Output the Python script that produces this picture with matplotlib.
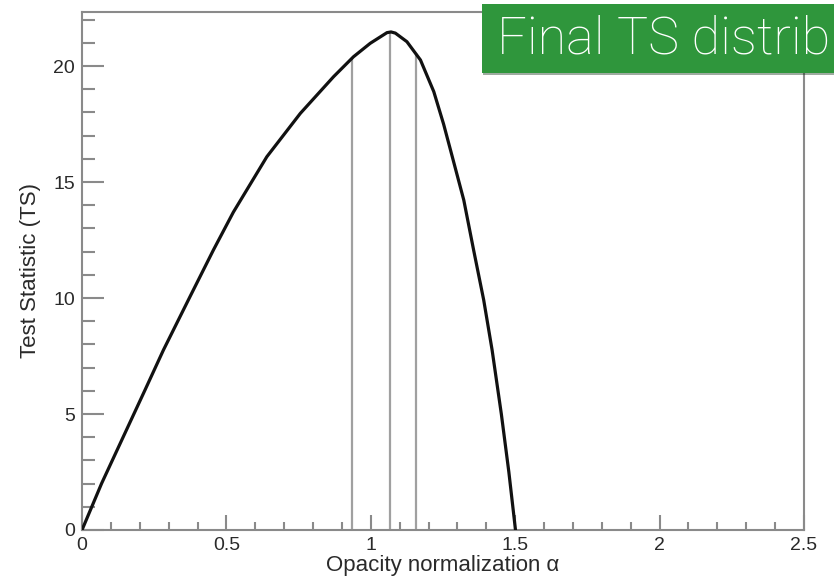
import numpy as np
import matplotlib
matplotlib.use("Agg")
from matplotlib import pyplot as plt
from matplotlib import patches, patheffects
from matplotlib.ticker import MultipleLocator

# TS scan vs opacity normalization
alpha = [0.0, 0.068, 0.143, 0.218, 0.282, 0.374, 0.455, 0.524, 0.640, 0.756,
         0.871, 0.940, 0.998, 1.056, 1.070, 1.085, 1.125, 1.172, 1.218, 1.252,
         1.276, 1.322, 1.356, 1.391, 1.420, 1.452, 1.478, 1.501]
ts = [0.0, 2.01, 4.02, 6.03, 7.76, 10.06, 12.07, 13.7, 16.09, 17.96,
      19.54, 20.40, 20.98, 21.44, 21.47, 21.42, 21.05, 20.26, 18.9, 17.5,
      16.38, 14.22, 12.07, 9.91, 7.76, 5.0, 2.5, 0.0]

# best fit and 1 sigma bounds
markers = [0.935, 1.067, 1.155]

x_label = "Opacity normalization α"
y_label = "Test Statistic (TS)"
banner = "Final TS distrib"

plt.rcParams['font.family'] = ['Liberation Sans', 'DejaVu Sans']

fig = plt.figure(figsize=(8.34, 5.84), dpi=100)
ax = fig.add_axes([82/834, 54/584, 722/834, 518/584])

ax.plot(alpha, ts, color='#111111', lw=2.3, solid_joinstyle='round', zorder=3)
ax.vlines(markers, 0, np.interp(markers, alpha, ts), color='#a0a0a0', lw=1.6, zorder=2)

ax.set_xlim(0, 2.5)
ax.set_ylim(0, 22.33)

frame_col = '#8a8a8a'
for s in ax.spines.values():
    s.set_color(frame_col)
    s.set_linewidth(1.5)

ax.xaxis.set_minor_locator(MultipleLocator(0.1))
ax.yaxis.set_major_locator(MultipleLocator(5))
ax.yaxis.set_minor_locator(MultipleLocator(1))
ax.set_xticks([0, 0.5, 1, 1.5, 2, 2.5])
ax.set_xticklabels(['0', '0.5', '1', '1.5', '2', '2.5'])
ax.tick_params(which='both', direction='in', color=frame_col, width=1.5,
               top=False, right=False, labelcolor='#2a2a2a', labelsize=14, pad=5)
ax.tick_params(axis='x', which='major', length=11)
ax.tick_params(axis='x', which='minor', length=6)
ax.tick_params(axis='y', which='major', length=16)
ax.tick_params(axis='y', which='minor', length=9)

ax.set_xlabel(x_label, fontsize=16, color='#2a2a2a', labelpad=1)
ax.set_ylabel(y_label, fontsize=16, color='#2a2a2a', labelpad=9)

# green title banner running off the right edge
box = patches.Rectangle((482/834, (584-73)/584), 0.5, 69/584, transform=fig.transFigure,
                        facecolor='#2f963c', edgecolor='none', zorder=10,
                        path_effects=[patheffects.withSimplePatchShadow(offset=(1, -1.5), alpha=0.4)])
fig.patches.append(box)
fig.text(497/834, (584-53)/584, banner, color='white', fontsize=37.6,
         family=['Roboto', 'DejaVu Sans'], fontweight='light', va='baseline', ha='left', zorder=11)

fig.savefig('out.png', dpi=100)
